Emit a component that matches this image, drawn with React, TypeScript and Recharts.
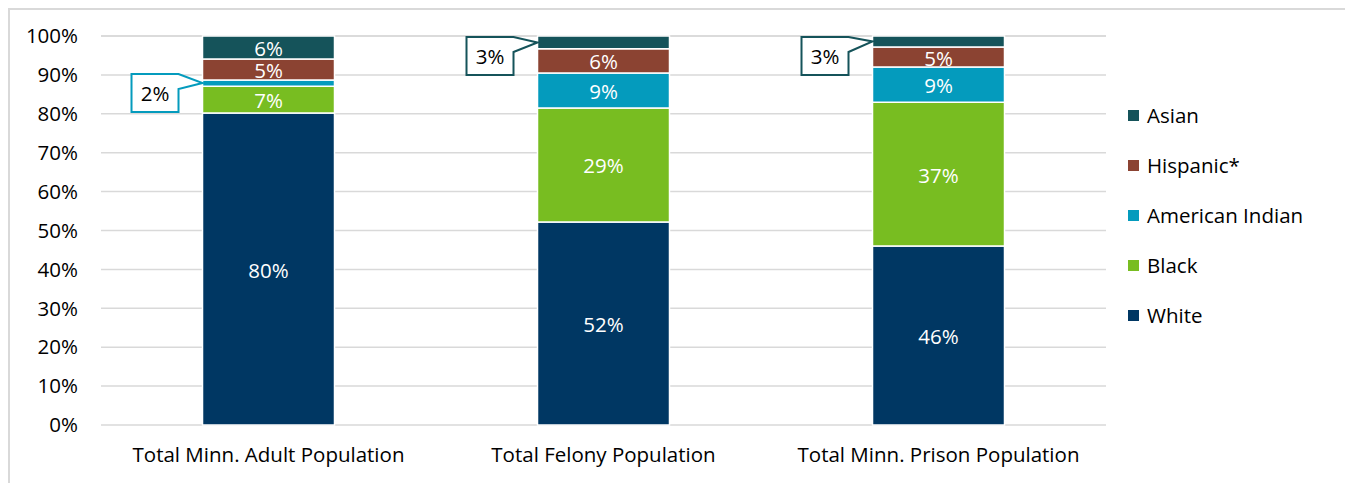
import { Bar, BarChart, CartesianGrid, LabelList, Legend, XAxis, YAxis } from 'recharts'

const categories = ['Total Minn. Adult Population', 'Total Felony Population', 'Total Minn. Prison Population']
const white = [80.2, 52.2, 46.0]
const black = [6.9, 29.3, 37.0]
const americanIndian = [1.6, 9.0, 9.0]
const hispanic = [5.4, 6.2, 5.2]
const asian = [5.9, 3.3, 2.8]
const yTicks = [0, 10, 20, 30, 40, 50, 60, 70, 80, 90, 100]

const series = [
  { key: 'white', name: 'White', values: white, color: '#003763' },
  { key: 'black', name: 'Black', values: black, color: '#78bd21' },
  { key: 'amind', name: 'American Indian', values: americanIndian, color: '#049bbd' },
  { key: 'hispanic', name: 'Hispanic*', values: hispanic, color: '#8b4332' },
  { key: 'asian', name: 'Asian', values: asian, color: '#15535a' },
]

const chartData = categories.map((name, i) => {
  const row: Record<string, string | number> = { name }
  series.forEach((s) => {
    row[s.key] = s.values[i]
  })
  return row
})

const FONT = '"Open Sans", sans-serif'
const FS = 20.5
const PLOT_TOP = 26

function makeLabel(color: string) {
  return (props: any) => {
    const { x, y, width, height, value } = props
    if (value == null) return null
    const text = `${Math.round(Number(value))}%`
    if (Number(value) >= 4) {
      return (
        <text
          x={x + width / 2}
          y={y + height / 2 + 0.5}
          fill="#fff"
          fontSize={FS}
          fontFamily={FONT}
          textAnchor="middle"
          dominantBaseline="central"
        >
          {text}
        </text>
      )
    }
    // small segment: callout box to the left of the bar
    const ax = x
    const ay = y + height / 2
    const bw = 47
    const bh = 38
    const bx = ax - 24 - bw
    const by = Math.max(ay - 9, PLOT_TOP + 1)
    const path = `M${bx},${by} L${bx + bw},${by} L${ax},${ay} L${bx + bw},${by + 15} L${bx + bw},${by + bh} L${bx},${by + bh} Z`
    return (
      <g>
        <path d={path} fill="#fff" stroke={color} strokeWidth={2} />
        <text
          x={bx + bw / 2}
          y={by + bh / 2}
          fill="#000"
          fontSize={FS}
          fontFamily={FONT}
          textAnchor="middle"
          dominantBaseline="central"
        >
          {text}
        </text>
      </g>
    )
  }
}

function LegendBox() {
  return (
    <div style={{ fontFamily: FONT, fontSize: FS, color: '#000' }}>
      {[...series].reverse().map((s) => (
        <div key={s.key} style={{ height: 50, display: 'flex', alignItems: 'center' }}>
          <span style={{ width: 11, height: 11, background: s.color, display: 'inline-block', marginRight: 8 }} />
          <span>{s.name}</span>
        </div>
      ))}
    </div>
  )
}

export default function App() {
  return (
    <div style={{ width: 1341, height: 500, border: '2px solid #d9d9d9', background: '#fff' }}>
      <BarChart
        width={1341}
        height={480}
        data={chartData}
        margin={{ top: PLOT_TOP, right: 25, bottom: 25, left: 0 }}
        barCategoryGap="30.3%"
      >
        <CartesianGrid vertical={false} stroke="#d9d9d9" strokeWidth={1.5} />
        <XAxis
          dataKey="name"
          axisLine={false}
          tickLine={false}
          tickSize={0}
          tickMargin={22}
          height={40}
          interval={0}
          tick={{ fill: '#000', fontSize: FS, fontFamily: FONT }}
        />
        <YAxis
          domain={[0, 100]}
          ticks={yTicks}
          width={91}
          axisLine={false}
          tickLine={false}
          tickSize={0}
          tickMargin={23}
          tickFormatter={(v) => `${v}%`}
          tick={{ fill: '#000', fontSize: FS, fontFamily: FONT }}
        />
        <Legend
          content={<LegendBox />}
          layout="vertical"
          align="right"
          verticalAlign="top"
          wrapperStyle={{ left: 1118, top: 80, width: 220 }}
        />
        {series.map((s) => (
          <Bar
            key={s.key}
            dataKey={s.key}
            name={s.name}
            stackId="a"
            fill={s.color}
            stroke="#fff"
            strokeWidth={1.5}
            isAnimationActive={false}
          >
            <LabelList dataKey={s.key} content={makeLabel(s.color)} />
          </Bar>
        ))}
      </BarChart>
    </div>
  )
}
